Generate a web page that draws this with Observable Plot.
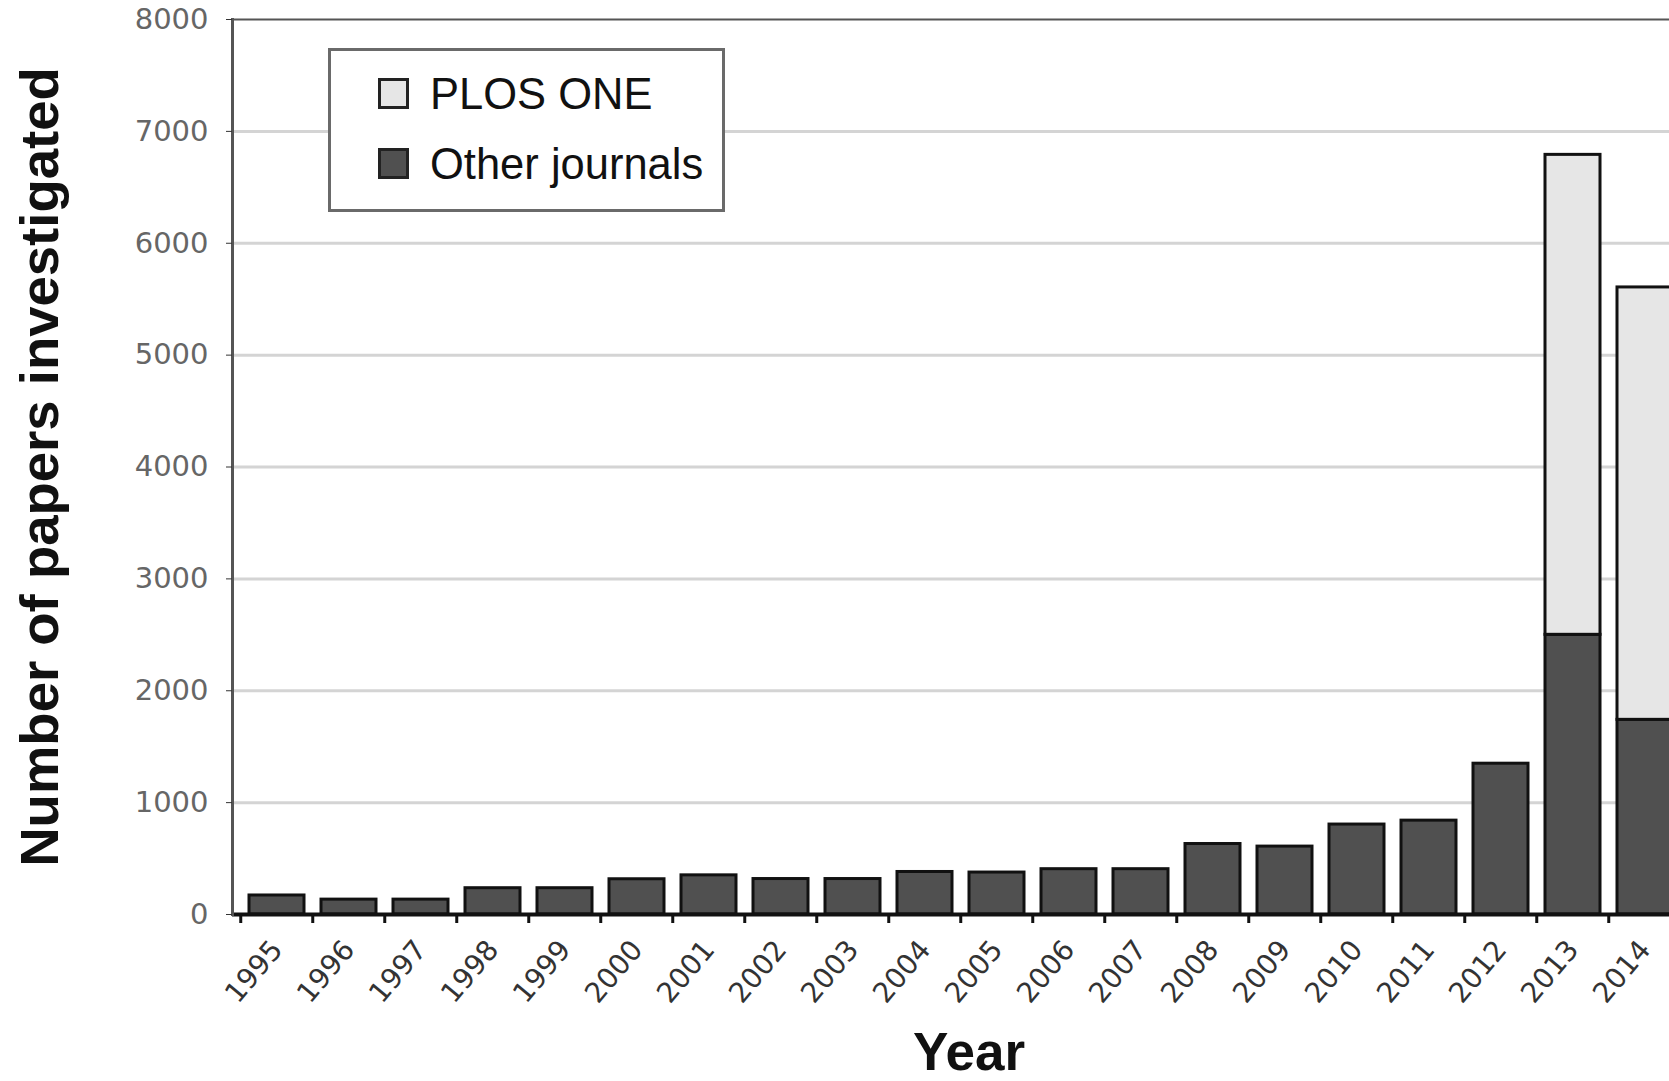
<!DOCTYPE html>
<html><head><meta charset="utf-8">
<script src="https://cdn.jsdelivr.net/npm/d3@7"></script>
<script src="https://cdn.jsdelivr.net/npm/@observablehq/plot@0.6"></script>
<style>
html,body{margin:0;padding:0;background:#fff;overflow:hidden}
#wrap{position:relative;width:1669px;height:1081px}
#legend{position:absolute;left:328px;top:48px;width:391px;height:158px;border:3px solid #6a6a6a;background:#fff;font-family:"Liberation Sans",Arial,sans-serif;font-size:43.5px;color:#111}
.sw{position:absolute;left:47px;width:25px;height:25px;border:3px solid #222}
.lt{position:absolute;left:99px;line-height:43.5px;white-space:nowrap}
</style></head><body><div id="wrap"></div>
<script>
const years = ["1995","1996","1997","1998","1999","2000","2001","2002","2003","2004","2005","2006","2007","2008","2009","2010","2011","2012","2013","2014"];
const otherJournals = [170,133,133,235,235,315,350,317,317,380,375,405,405,630,607,804,839,1348,2500,1740];
const plosOne = [0,0,0,0,0,0,0,0,0,0,0,0,0,0,0,0,0,0,4290,3865];
const yTicks = [0,1000,2000,3000,4000,5000,6000,7000,8000];
const seriesNames = ["PLOS ONE","Other journals"];
const seriesColors = ["#e6e6e6","#505050"];
const yTitle = "Number of papers investigated";
const xTitle = "Year";

const data = [];
years.forEach((yr,i)=>{
  data.push({year: yr, series: "Other journals", value: otherJournals[i]});
  if (plosOne[i] > 0) data.push({year: yr, series: "PLOS ONE", value: plosOne[i]});
});

const W=1669, H=1081, xLeft=232, xRight=1690, pIn=0.23, pOut=0.17;
const step = (xRight-xLeft)/(years.length - pIn + 2*pOut);

const chart = Plot.plot({
  width: W, height: H, marginLeft: 232, marginRight: 0, marginTop: 19, marginBottom: 167,
  style: {fontFamily: "DejaVu Sans, sans-serif", background: "white", overflow: "visible"},
  x: {type:"band", domain: years, range:[xLeft,xRight], paddingInner: pIn, paddingOuter: pOut, label: null},
  y: {domain:[0,8000], range:[914,19], label:null},
  color: {domain: seriesNames, range: seriesColors},
  marks: [
    Plot.gridY(yTicks.filter(t=>t>0 && t<8000), {stroke:"#d4d4d4", strokeOpacity:1, strokeWidth:3}),
    Plot.barY(data, {x:"year", y:"value", fill:"series", stroke:"#111", strokeWidth:3, order:["Other journals","PLOS ONE"]}),
    Plot.ruleY([8000], {stroke:"#555", strokeWidth:2}),
    Plot.ruleY([0], {stroke:"#111", strokeWidth:4}),
    Plot.frame({anchor:"left", stroke:"#555", strokeWidth:3}),
    Plot.axisY({ticks: yTicks, tickFormat: d => String(d), tickSize:6, tickPadding:18, fontSize:29, label:null, stroke:"#333"}),
    Plot.axisX({tickSize:9, tickFormat: ()=>"", dx: -step/2, stroke:"#111", strokeWidth:3, label:null}),
    Plot.axisX({tickSize:0, tickRotate:-50, tickPadding:30, fontSize:28, label:null}),
    Plot.text([yTitle], {frameAnchor:"left", textAnchor:"middle", dx:-192, rotate:-90, fontSize:54.5, fontWeight:"bold", fontFamily:"Liberation Sans, Arial, sans-serif", fill:"#111"}),
    Plot.text([xTitle], {frameAnchor:"bottom", dx:18, dy:155, fontSize:53, fontWeight:"bold", fontFamily:"Liberation Sans, Arial, sans-serif", fill:"#111"})
  ]
});
const wrap = document.getElementById("wrap");
wrap.appendChild(chart);
d3.select(chart).selectAll('g[aria-label="y-axis tick label"]').attr("fill", "#666");
d3.select(chart).selectAll('g[aria-label="x-axis tick label"]').attr("fill", "#333");

const legend = document.createElement("div");
legend.id = "legend";
seriesNames.forEach((name, i) => {
  const sw = document.createElement("div");
  sw.className = "sw";
  sw.style.top = (27 + i*70) + "px";
  sw.style.background = seriesColors[i];
  const t = document.createElement("div");
  t.className = "lt";
  t.style.top = (22 + i*70) + "px";
  t.textContent = name;
  legend.appendChild(sw);
  legend.appendChild(t);
});
wrap.appendChild(legend);
</script></body></html>
